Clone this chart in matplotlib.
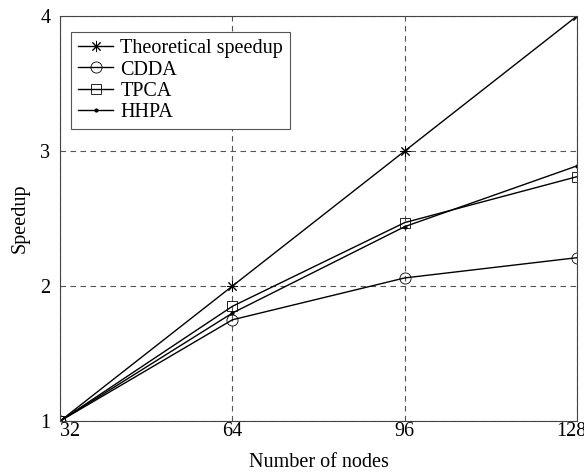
import numpy as np
import matplotlib.pyplot as plt
import matplotlib.transforms as mtransforms

plt.rcParams['font.family'] = ['Liberation Serif', 'DejaVu Serif']
plt.rcParams['font.size'] = 14.5

# data
nodes = [32, 64, 96, 128]
theoretical = [1.0, 2.0, 3.0, 4.0]
cdda = [1.0, 1.75, 2.06, 2.21]
tpca = [1.0, 1.85, 2.47, 2.81]
hhpa = [1.0, 1.80, 2.44, 2.89]

fig = plt.figure(figsize=(5.84, 4.72), dpi=100)
ax = fig.add_axes([0.103, 0.108, 0.885, 0.858])

ax.plot(nodes, theoretical, color='black', lw=1, marker=(8, 2, 0), ms=8,
        markeredgewidth=0.7, label='Theoretical speedup')
ax.plot(nodes, cdda, color='black', lw=1, marker='o', ms=8,
        mfc='none', markeredgewidth=0.6, label='CDDA')
ax.plot(nodes, tpca, color='black', lw=1, marker='s', ms=7,
        mfc='none', markeredgewidth=0.6, label='TPCA')
ax.plot(nodes, hhpa, color='black', lw=1, marker='.', ms=4,
        label='HHPA')

ax.set_xlim(32, 128)
ax.set_ylim(1, 4)
ax.set_xticks(nodes)
ax.set_yticks([1, 2, 3, 4])
ax.tick_params(axis='x', length=0, pad=1)
ax.tick_params(axis='y', length=0, pad=7)
xlabels = ax.get_xticklabels()
xlabels[0].set_horizontalalignment('left')
# last label sits a little left of the corner, as in the reference
shift = mtransforms.ScaledTranslation(-6 / 100, 0, fig.dpi_scale_trans)
xlabels[-1].set_transform(xlabels[-1].get_transform() + shift)
ax.grid(True, color='#555555', linestyle=(0, (5, 4)), linewidth=0.8)
for s in ax.spines.values():
    s.set_color('#444444')
    s.set_linewidth(0.8)

ax.set_xlabel('Number of nodes', labelpad=8)
ax.set_ylabel('Speedup', labelpad=8)

leg = ax.legend(loc='upper left', bbox_to_anchor=(0.021, 0.960),
                borderaxespad=0, fancybox=False, framealpha=1,
                edgecolor='#555555', handlelength=1.75, handletextpad=0.35,
                borderpad=0.35, labelspacing=0.1)
leg.get_frame().set_linewidth(0.8)

plt.savefig('out.png', dpi=100)
